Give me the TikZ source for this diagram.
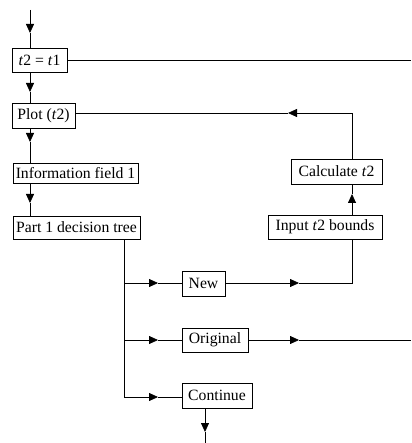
\documentclass[tikz,border=0pt]{standalone}
\usepackage{fontspec}
\setmainfont{Liberation Serif}
\usetikzlibrary{arrows.meta}
\begin{document}
\begin{tikzpicture}[x=1pt,y=-1pt,
  box/.style={draw, line width=0.8pt, inner sep=0pt, font=\fontsize{15.7}{18}\selectfont},
  flow/.style={line width=0.8pt},
  arr/.style={flow, -{Triangle[length=9pt,width=8pt]}}]
\useasboundingbox (0,0) rectangle (411,443);

% boxes
\node[box, minimum width=55pt,  minimum height=24pt] (t21)   at (39.5,60)    {\textit{t}2 = \textit{t}1};
\node[box, minimum width=63pt,  minimum height=25pt] (plot)  at (43.5,115.5) {Plot (\textit{t}2)};
\node[box, minimum width=125pt, minimum height=20pt] (info)  at (75.5,173)   {Information field 1};
\node[box, minimum width=127pt, minimum height=23pt] (part1) at (76.5,227.5) {Part 1 decision tree};
\node[box, minimum width=91pt,  minimum height=25pt] (calc)  at (336.5,171.5) {Calculate \textit{t}2};
\node[box, minimum width=114pt, minimum height=24pt] (input) at (325,227)    {Input \textit{t}2 bounds};
\node[box, minimum width=43pt,  minimum height=25pt] (new)   at (203.5,283.5) {New};
\node[box, minimum width=66pt,  minimum height=24pt] (orig)  at (215,340)    {Original};
\node[box, minimum width=70pt,  minimum height=25pt] (cont)  at (217,395.5)  {Continue};

% main spine
\coordinate (in) at (30,10);
\coordinate (a1) at (30,33);
\draw[arr] (in) -- (a1);
\draw[flow] (a1) -- (t21.north -| a1);
\coordinate (a2) at (30,92);
\draw[arr] (t21.south -| a2) -- (a2);
\draw[flow] (a2) -- (plot.north -| a2);
\coordinate (a3) at (30,142);
\draw[arr] (plot.south -| a3) -- (a3);
\draw[flow] (a3) -- (info.north -| a3);
\coordinate (a4) at (30,203);
\draw[arr] (info.south -| a4) -- (a4);
\draw[flow] (a4) -- (part1.north -| a4);

% exit to the right from t2 = t1
\coordinate (r1) at (411,60);
\draw[flow] (t21.east) -- (r1);

% recalculation loop back to Plot
\coordinate (lp) at (352,113);
\coordinate (a5) at (288,113);
\draw[flow] (calc.north -| lp) -- (lp);
\draw[arr] (lp) -- (a5);
\draw[flow] (a5) -- (plot.east |- lp);
\coordinate (a6) at (352,194);
\draw[arr] (input.north -| a6) -- (a6);
\draw[flow] (a6) -- (calc.south -| a6);

% decision tree branches
\coordinate (d0) at (124,397);
\draw[flow] (part1.south -| d0) -- (d0);
\coordinate (b1) at (124,283);
\coordinate (b2) at (124,340);
\coordinate (t1) at (158,283);
\coordinate (t2) at (158,340);
\coordinate (t3) at (158,397);
\draw[arr] (b1) -- (t1);
\draw[flow] (t1) -- (new.west |- t1);
\draw[arr] (b2) -- (t2);
\draw[flow] (t2) -- (orig.west |- t2);
\draw[arr] (d0) -- (t3);
\draw[flow] (t3) -- (cont.west |- t3);

% New -> Input t2 bounds
\coordinate (a7) at (299,283);
\coordinate (c7) at (352,283);
\draw[arr] (new.east |- a7) -- (a7);
\draw[flow] (a7) -- (c7) -- (input.south -| c7);

% Original -> exit right
\coordinate (a8) at (299,340);
\coordinate (r2) at (411,340);
\draw[arr] (orig.east) -- (a8);
\draw[flow] (a8) -- (r2);

% Continue -> down
\coordinate (a9) at (205,432);
\coordinate (out) at (205,443);
\draw[arr] (cont.south -| a9) -- (a9);
\draw[flow] (a9) -- (out);
\end{tikzpicture}
\end{document}
